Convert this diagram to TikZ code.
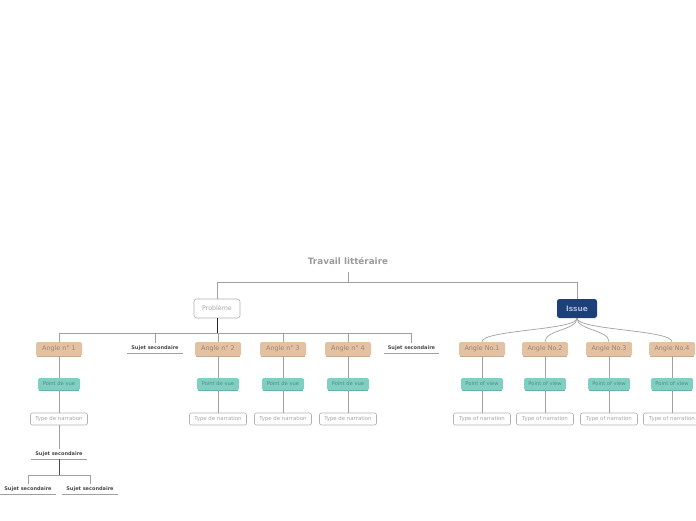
\documentclass[tikz,border=0pt]{standalone}
\usepackage{fontspec}
\setmainfont{DejaVu Sans}
\definecolor{linegray}{HTML}{A0A0A0}
\definecolor{rootgray}{HTML}{9A9A9A}
\definecolor{angfill}{HTML}{E3C1A3}
\definecolor{angtext}{HTML}{A08472}
\definecolor{angshadow}{HTML}{C9AA8E}
\definecolor{povfill}{HTML}{7FCFC3}
\definecolor{povtext}{HTML}{4E8E86}
\definecolor{povshadow}{HTML}{66B3A8}
\definecolor{issuefill}{HTML}{1E4079}
\definecolor{issuetext}{HTML}{A9BBD9}
\definecolor{boxgray}{HTML}{B0B0B0}
\definecolor{txtgray}{HTML}{A6A6A6}
\begin{document}
\begin{tikzpicture}[x=1pt,y=-1pt,
  conn/.style={draw=linegray,line width=0.9pt},
  rootnode/.style={font=\fontsize{8.8}{10}\selectfont\bfseries,text=rootgray,inner sep=2pt},
  probnode/.style={draw=boxgray,line width=0.6pt,rounded corners=2.5pt,fill=white,font=\fontsize{6.3}{7}\selectfont,text=txtgray,minimum width=46pt,minimum height=19pt,inner sep=0pt},
  issuenode/.style={fill=issuefill,rounded corners=2.5pt,font=\fontsize{7.4}{8}\selectfont\bfseries,text=issuetext,minimum width=40pt,minimum height=19pt,inner sep=0pt},
  anglenode/.style={fill=angfill,rounded corners=1.5pt,font=\fontsize{6.4}{7}\selectfont,text=angtext,minimum width=46pt,minimum height=14pt,inner sep=0pt,
     append after command={([xshift=1pt]\tikzlastnode.south west) edge[draw=angshadow,line width=0.6pt] ([xshift=-1pt]\tikzlastnode.south east)}},
  povnode/.style={fill=povfill,rounded corners=1.5pt,font=\fontsize{5.2}{6}\selectfont,text=povtext,minimum width=42pt,minimum height=12pt,inner sep=0pt,
     append after command={([xshift=1pt]\tikzlastnode.south west) edge[draw=povshadow,line width=0.6pt] ([xshift=-1pt]\tikzlastnode.south east)}},
  typenode/.style={draw=boxgray,line width=0.6pt,rounded corners=2pt,fill=white,font=\fontsize{5.4}{6}\selectfont,text=txtgray,minimum width=57pt,minimum height=12pt,inner sep=0pt},
  sujetnode/.style={font=\fontsize{5}{6}\selectfont\bfseries,text=black!72,minimum width=55pt,minimum height=10pt,inner sep=0pt,
     append after command={(\tikzlastnode.south west) edge[draw=linegray,line width=0.8pt] (\tikzlastnode.south east)}}
]
\useasboundingbox (0,0) rectangle (696,520);

% root
\node[rootnode] (root) at (348,261) {Travail littéraire};
\node[probnode] (P) at (217,308.5) {Problème};
\node[issuenode] (I) at (577,308.5) {Issue};
\coordinate (rj) at (348,282);
\draw[conn] ([yshift=-5pt]root.south) -- (rj);
\draw[conn] (rj) -| (P.north);
\draw[conn] (rj) -| (I.north);

% Problème side
\node[anglenode] (A1) at (59,349) {Angle n° 1};
\node[sujetnode] (S1) at (155,348) {Sujet secondaire};
\node[anglenode] (A2) at (218,349) {Angle n° 2};
\node[anglenode] (A3) at (283,349) {Angle n° 3};
\node[anglenode] (A4) at (348,349) {Angle n° 4};
\node[sujetnode] (S2) at (411.5,348) {Sujet secondaire};

\coordinate (pj) at (217,333);
\draw[draw=black!85,line width=1pt] (P.south) -- (pj);
\foreach \n in {A1,S1,A2,A3,A4,S2} { \draw[conn] (pj) -| (\n.north); }

\foreach \i/\x in {1/59,2/218,3/283,4/348} {
  \node[povnode] (V\i) at (\x,384) {Point de vue};
  \node[typenode] (T\i) at (\x,419) {Type de narration};
  \draw[conn] (A\i.south) -- (V\i.north);
  \draw[conn] (V\i.south) -- (T\i.north);
}

\node[sujetnode] (S3) at (59,454) {Sujet secondaire};
\draw[conn] (T1.south) -- (S3.north);
\node[sujetnode] (S4) at (28,489) {Sujet secondaire};
\node[sujetnode] (S5) at (90,489) {Sujet secondaire};
\coordinate (sj) at (59,475);
\draw[draw=black!70,line width=0.9pt] (S3.south) -- (sj);
\draw[conn] (sj) -| (S4.north);
\draw[conn] (sj) -| (S5.north);

% Issue side
\foreach \i/\x in {1/482,2/545,3/609,4/672} {
  \node[anglenode] (B\i) at (\x,349) {Angle No.\i};
  \node[povnode] (W\i) at (\x,384) {Point of view};
  \node[typenode] (U\i) at (\x,419) {Type of narration};
  \draw[conn,line width=0.7pt] (I.south) .. controls +(0,12) and +(0,-12) .. (B\i.north);
  \draw[conn] (B\i.south) -- (W\i.north);
  \draw[conn] (W\i.south) -- (U\i.north);
}
\end{tikzpicture}
\end{document}
